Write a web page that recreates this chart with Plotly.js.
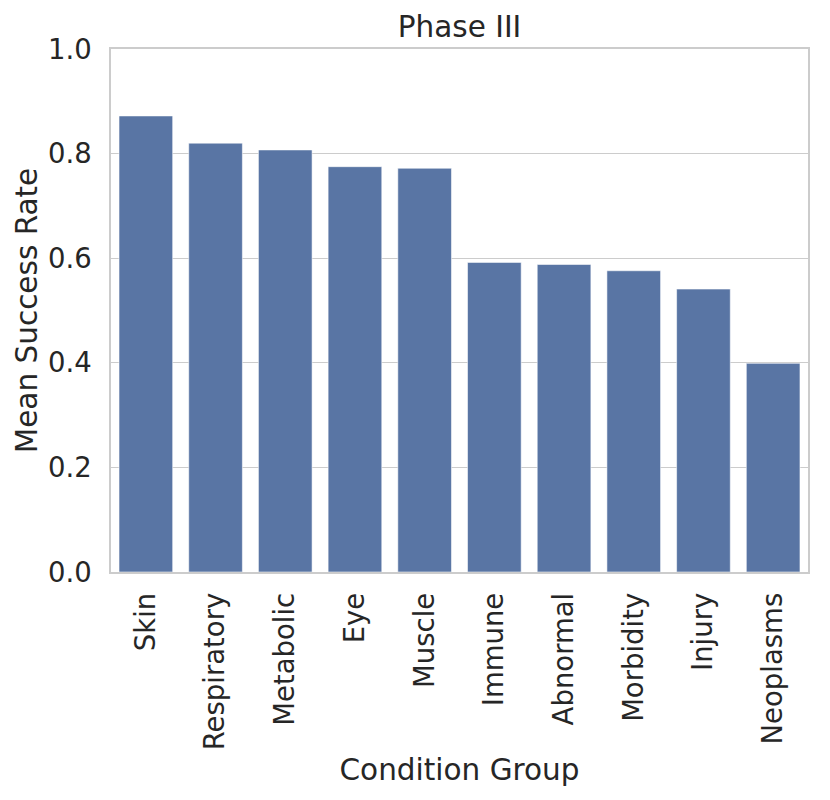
<!DOCTYPE html>
<html>
<head>
<meta charset="utf-8">
<script src="https://cdn.plot.ly/plotly-3.0.1.min.js"></script>
<style>
  html, body { margin: 0; padding: 0; background: #fff; }
  #chart { width: 830px; height: 800px; }
</style>
</head>
<body>
<div id="chart"></div>
<script>
// mean success rate per condition group, phase III
let groups = ["Skin", "Respiratory", "Metabolic", "Eye", "Muscle",
              "Immune", "Abnormal", "Morbidity", "Injury", "Neoplasms"];
let successRate = [0.872, 0.820, 0.807, 0.775, 0.772,
                   0.592, 0.588, 0.576, 0.541, 0.399];
let yTicks = [0, 0.2, 0.4, 0.6, 0.8, 1.0];

let trace = {
    x: groups,
    y: successRate,
    type: "bar",
    marker: {
        color: "#5975a4",
        line: { color: "rgba(255,255,255,0.55)", width: 1 }
    },
    hoverinfo: "x+y"
};

let layout = {
    width: 830,
    height: 800,
    margin: { l: 111, r: 22, t: 48.5, b: 227.5 },
    paper_bgcolor: "#fff",
    plot_bgcolor: "#fff",
    font: { family: "DejaVu Sans", color: "#262626" },
    bargap: 0.23,
    showlegend: false,
    title: {
        text: "Phase III",
        font: { size: 29.5, color: "#262626" },
        x: 0.5, xref: "paper", xanchor: "center",
        y: 1, yref: "paper", yanchor: "bottom",
        pad: { b: 12 }
    },
    xaxis: {
        type: "category",
        tickangle: -90,
        tickfont: { size: 27.5 },
        ticks: "",
        ticklabelstandoff: 8,
        showgrid: false,
        showline: true,
        mirror: true,
        linecolor: "#cccccc",
        linewidth: 1.5,
        title: { text: "Condition Group", font: { size: 29.5 }, standoff: 10 }
    },
    yaxis: {
        range: [0, 1],
        tickvals: yTicks,
        tickformat: ".1f",
        tickfont: { size: 27.5 },
        ticks: "",
        ticklabelstandoff: 12,
        showgrid: true,
        gridcolor: "#cccccc",
        gridwidth: 1.3,
        zeroline: false,
        showline: true,
        mirror: true,
        linecolor: "#cccccc",
        linewidth: 1.5,
        title: { text: "Mean Success Rate", font: { size: 29.5 }, standoff: 2 }
    }
};

Plotly.newPlot("chart", [trace], layout, { displayModeBar: false });
</script>
</body>
</html>
